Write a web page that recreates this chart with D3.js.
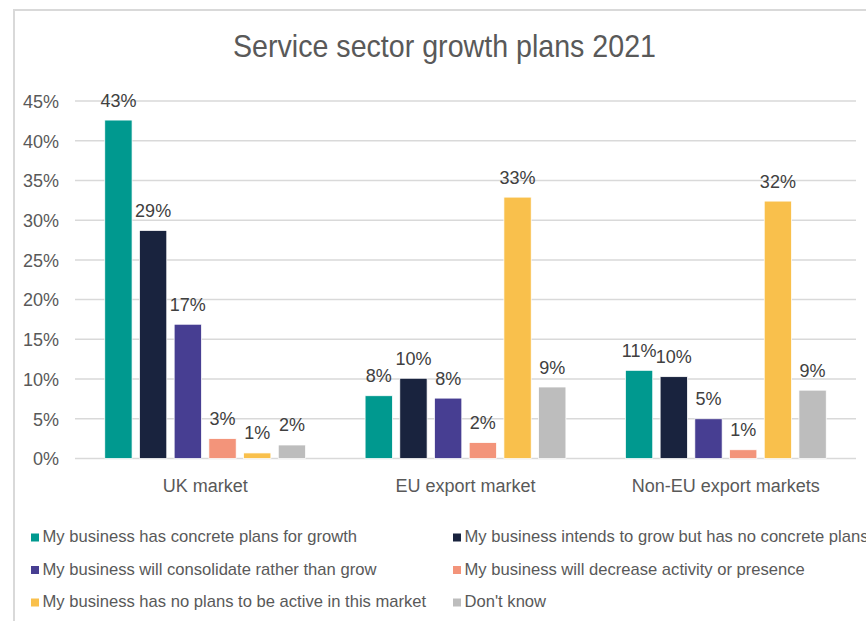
<!DOCTYPE html>
<html>
<head>
<meta charset="utf-8">
<script src="https://cdn.jsdelivr.net/npm/d3@7"></script>
<style>
  html, body { margin: 0; padding: 0; background: #fff; }
  svg { display: block; font-family: "Liberation Sans", Arial, sans-serif; }
</style>
</head>
<body>
<svg id="chart" width="866" height="621"></svg>
<script>
// Markets on the x axis
const markets = ["UK market", "EU export market", "Non-EU export markets"];

// Response options (one bar per option in each market)
const responses = [
  "My business has concrete plans for growth",
  "My business intends to grow but has no concrete plans",
  "My business will consolidate rather than grow",
  "My business will decrease activity or presence",
  "My business has no plans to be active in this market",
  "Don't know"
];

// Share of businesses (%), per response, in market order
const concretePlans   = [42.6, 7.9, 11.1];
const noConcretePlans = [28.7, 10.1, 10.3];
const consolidate     = [16.9, 7.6, 5.0];
const decrease        = [2.5, 2.0, 1.1];
const notActive       = [0.7, 32.9, 32.4];
const dontKnow        = [1.7, 9.0, 8.6];

const seriesValues = [concretePlans, noConcretePlans, consolidate, decrease, notActive, dontKnow];
const colors = ["#00998f", "#19233e", "#473e92", "#f3947a", "#f9c04c", "#bdbdbd"];

// Y axis tick values (%)
const yTicks = [0, 5, 10, 15, 20, 25, 30, 35, 40, 45];

const svg = d3.select("#chart");

// Frame lines (top and left)
svg.append("line").attr("x1", 13).attr("x2", 866).attr("y1", 10).attr("y2", 10)
  .attr("stroke", "#d9d9d9").attr("stroke-width", 2);
svg.append("line").attr("x1", 14).attr("x2", 14).attr("y1", 9).attr("y2", 621)
  .attr("stroke", "#d9d9d9").attr("stroke-width", 2);

// Title
svg.append("text")
  .attr("x", 233).attr("y", 57)
  .attr("font-size", 32)
  .attr("fill", "#595959")
  .attr("textLength", 423)
  .attr("lengthAdjust", "spacingAndGlyphs")
  .text("Service sector growth plans 2021");

// Scales
const plotLeft = 75, plotRight = 856, plotTop = 101, plotBottom = 458.5;
const x0 = d3.scaleBand().domain(markets).range([plotLeft, plotRight]);
const groupWidth = 208.2;
const x1 = d3.scaleBand().domain(d3.range(responses.length))
  .range([-groupWidth / 2, groupWidth / 2])
  .paddingInner(0.213).paddingOuter(0.1065);
const y = d3.scaleLinear().domain([0, 45]).range([plotBottom, plotTop]);

// Gridlines
svg.append("g").selectAll("line").data(yTicks).join("line")
  .attr("x1", plotLeft).attr("x2", plotRight)
  .attr("y1", d => y(d)).attr("y2", d => y(d))
  .attr("stroke", "#d9d9d9").attr("stroke-width", 1.5);

// Y axis labels
const yAxis = d3.axisLeft(y).tickValues(yTicks).tickFormat(d => d + "%").tickSize(0).tickPadding(0);
const yg = svg.append("g").attr("transform", "translate(59,0)").call(yAxis);
yg.select(".domain").remove();
yg.selectAll("text").attr("font-size", 18).attr("fill", "#595959")
  .attr("font-family", "Liberation Sans, Arial, sans-serif").attr("dy", "0.35em");

// X axis labels
const xAxis = d3.axisBottom(x0).tickSize(0).tickPadding(0);
const xg = svg.append("g").attr("transform", "translate(0,478)").call(xAxis);
xg.select(".domain").remove();
xg.selectAll("text").attr("font-size", 18).attr("fill", "#595959")
  .attr("font-family", "Liberation Sans, Arial, sans-serif").attr("dy", "0.75em");

// Bars and value labels
const groups = svg.append("g").selectAll("g").data(markets).join("g")
  .attr("transform", m => `translate(${x0(m) + x0.bandwidth() / 2},0)`);

groups.each(function (m, mi) {
  const g = d3.select(this);
  seriesValues.forEach((vals, si) => {
    const v = vals[mi];
    g.append("rect")
      .attr("x", x1(si))
      .attr("y", y(v))
      .attr("width", x1.bandwidth())
      .attr("height", y(0) - y(v))
      .attr("fill", colors[si])
      .attr("stroke", "#ffffff").attr("stroke-width", 0.75);
    g.append("text")
      .attr("x", x1(si) + x1.bandwidth() / 2)
      .attr("y", y(v) - 13.5)
      .attr("text-anchor", "middle")
      .attr("font-size", 18)
      .attr("fill", "#404040")
      .text(Math.round(v) + "%");
  });
});

// Legend (two columns, three rows)
const legendCols = [31, 453];
const legendRows = [542, 574.5, 607];
const legend = svg.append("g").selectAll("g").data(responses).join("g")
  .attr("transform", (d, i) => `translate(${legendCols[i % 2]},${legendRows[Math.floor(i / 2)]})`);
legend.append("rect").attr("x", 0).attr("y", -8.5).attr("width", 8).attr("height", 8)
  .attr("fill", (d, i) => colors[i]);
legend.append("text").attr("x", 11.5).attr("y", 0)
  .attr("font-size", 16.6).attr("fill", "#595959").text(d => d);
</script>
</body>
</html>
